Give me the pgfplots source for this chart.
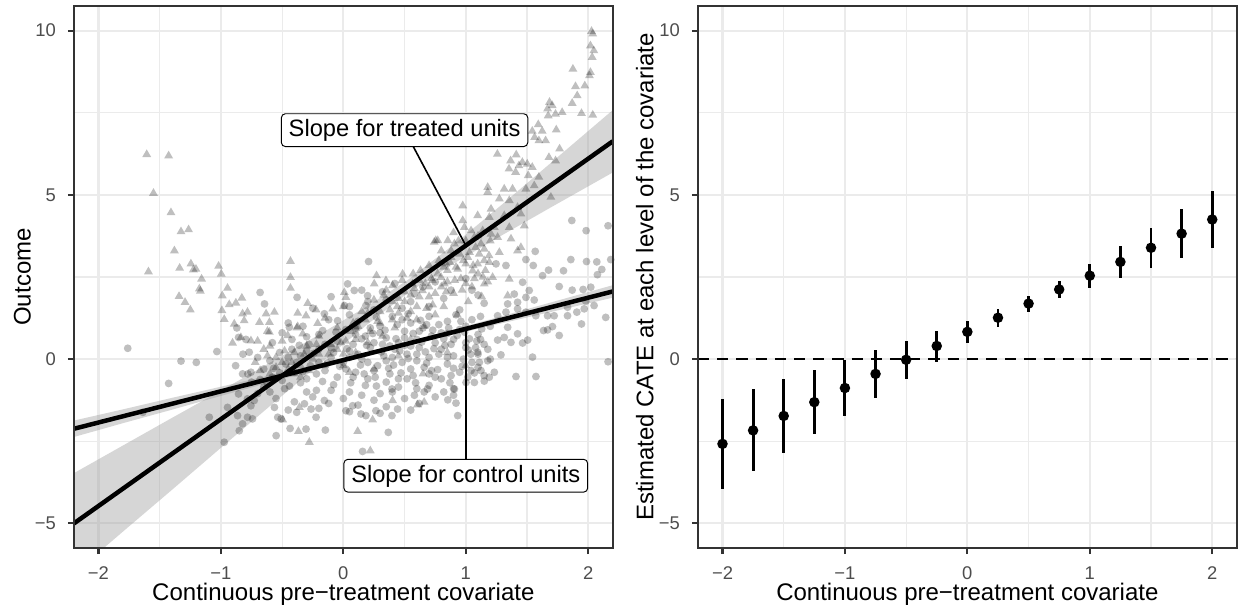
\documentclass[border=0pt]{standalone}
\usepackage{fontspec}
\setmainfont{Liberation Sans}
\usepackage{pgfplots}
\pgfplotsset{compat=1.18}
\usepackage{pgfplotstable}

\definecolor{gridc}{HTML}{EBEBEB}
\definecolor{bordc}{HTML}{333333}
\definecolor{tickc}{HTML}{4D4D4D}
\definecolor{bandc}{HTML}{999999}

% CATE estimates with 95% intervals at each covariate level
\pgfplotstableread{
x     y     lo     hi
-2    -2.58 -3.95 -1.21
-1.75 -2.17 -3.42 -0.92
-1.5  -1.73 -2.86 -0.62
-1.25 -1.31 -2.29 -0.32
-1    -0.88 -1.73 -0.02
-0.75 -0.45 -1.18  0.27
-0.5  -0.02 -0.61  0.56
-0.25  0.40 -0.08  0.87
0      0.83  0.48  1.17
0.25   1.26  0.99  1.52
0.5    1.69  1.44  1.92
0.75   2.12  1.85  2.38
1      2.54  2.15  2.90
1.25   2.96  2.48  3.45
1.5    3.39  2.77  4.00
1.75   3.82  3.07  4.56
2      4.25  3.37  5.12
}\catetable

\tikzset{
  slopelabel/.style={draw=black, fill=white, rounded corners=2.5pt,
    line width=0.6pt, inner xsep=4.6pt, inner ysep=3.3pt,
    text height=10.9pt, text depth=3pt,
    font=\fontsize{14.8}{16}\selectfont},
}

\pgfplotsset{
  panel/.style={
    scale only axis, width=336.7pt, height=338.75pt,
    xmin=-2.2, xmax=2.2, ymin=-5.75, ymax=10.75,
    xtick={-2,-1,0,1,2}, xticklabels={−2,−1,0,1,2},
    ytick={-5,0,5,10}, yticklabels={−5,0,5,10},
    minor xtick={-1.5,-0.5,0.5,1.5}, minor ytick={-2.5,2.5,7.5},
    grid=both,
    major grid style={draw=gridc, line width=1.4pt},
    minor grid style={draw=gridc, line width=0.7pt},
    axis line style={draw=bordc, line width=1.4pt},
    tick style={draw=bordc, line width=1.4pt},
    major tick length=3.8pt, minor tick length=0pt,
    tick align=outside, xtick pos=bottom, ytick pos=left,
    tick label style={font=\fontsize{11.5}{13}\selectfont, text=tickc},
    xticklabel style={anchor=base, yshift=-16pt},
    yticklabel style={anchor=east, inner xsep=0pt, xshift=-7.3pt},
    label style={font=\fontsize{15}{17}\selectfont, text=black},
    xlabel={Continuous pre−treatment covariate},
    xlabel style={at={([yshift=-32.8pt]rel axis cs:0.5,0)}, anchor=base},
  },
  ctrlpts/.style={only marks, color=black, mark=*, mark size=2.45pt,
    mark options={draw opacity=0, fill=black, fill opacity=0.25}},
  trtpts/.style={only marks, color=black, mark=triangle*, mark size=3.2pt,
    mark options={draw opacity=0, fill=black, fill opacity=0.25}},
}

\begin{document}
\begin{tikzpicture}
% ---------------- left panel: raw outcomes and group-wise fits
\begin{axis}[panel, name=L, at={(46.25pt,40.625pt)}, anchor=south west,
  ylabel={Outcome},
  ylabel style={at={([xshift=-32.25pt]rel axis cs:0,0.5)}, anchor=center}]

% control units
\addplot[ctrlpts] coordinates {
(-1.761,0.33) (-1.326,-0.06) (-1.201,-0.10) (-1.033,0.23) (-0.870,0.95) (-0.856,0.66)
(-0.796,0.60) (-0.769,0.21) (-0.823,-0.45) (-0.755,-0.40)
(-0.680,2.03) (-0.644,1.68) (-0.378,1.88) (0.206,2.97) (0.035,2.29) (0.089,2.09)
(0.198,1.93) (-0.169,0.87) (-0.155,1.38) (0.008,1.63) (0.184,1.63) (-0.441,0.97) (-0.047,1.17)
(1.866,4.22) (1.983,3.91) (2.162,4.06) (1.567,3.28) (1.858,3.03) (1.986,2.97) (2.070,2.96)
(2.184,3.03) (1.491,3.03) (1.551,2.85) (1.676,2.71) (1.798,2.69) (2.111,2.73) (2.075,2.57)
(1.627,2.54) (1.328,2.85) (1.247,2.90) (1.464,2.34) (1.763,2.21) (1.869,2.10) (1.958,2.12)
(2.021,2.19) (1.518,2.09) (1.396,1.98) (1.491,1.88) (1.559,1.80) (1.423,1.73) (1.342,1.68)
(1.980,1.76) (2.048,1.63) (1.831,1.58) (1.907,1.43) (1.967,1.53) (2.143,1.27) (1.831,1.32)
(1.722,1.32) (1.668,1.32) (1.572,1.32) (1.491,1.43) (1.423,1.53) (1.328,1.43) (1.260,1.32)
(1.342,0.97) (1.708,0.99) (1.635,0.87) (1.668,0.89) (1.763,0.72) (1.945,1.07) (1.423,0.77)
(1.505,0.58) (1.314,0.66) (1.260,0.58) (1.369,0.51) (1.464,0.49) (1.287,0.13) (1.545,0.06)
(2.162,-0.08) (1.179,-0.05) (1.097,0.21) (1.111,-0.10) (1.410,-0.53) (1.573,-0.53)
(1.233,-0.40) (1.192,-0.55) (1.124,-0.35) (1.043,-0.35) (1.016,-0.55)
(-1.427,-0.74) (-1.638,-1.62) (-1.095,-1.77) (-0.973,-2.53) (-0.946,-1.47) (-0.856,-1.06)
(-0.864,-1.72) (-0.823,-1.97) (-0.850,-2.18) (-0.783,-1.77) (-0.742,-1.82) (-0.755,-1.42)
(-0.728,-1.26) (-0.783,-1.21)
(-0.549,-2.33) (-0.435,-2.11) (-0.305,-2.13) (-0.147,-2.16) (0.367,-2.23) (0.157,-2.81)
(-0.536,-1.77) (-0.508,-1.82) (-0.381,-1.62) (-0.264,-1.52) (-0.223,-1.77) (0.021,-1.57)
(0.144,-1.67) (0.184,-1.72) (0.397,-1.72) (0.443,-1.52) (-0.318,-1.36) (-0.155,-1.26)
(0.076,-1.42) (0.266,-1.57) (0.397,-0.91) (0.687,-0.91) (-0.563,-1.47)
(0.907,-0.91) (0.853,-1.24) (0.920,-1.34) (0.934,-1.72) (1.002,-0.71) (1.070,-0.71) (1.151,-0.67)
(-0.62,-0.75) (-0.48,-0.9) (-0.35,-0.72) (-0.22,-0.95) (-0.08,-0.78) (0.05,-1.0) (0.18,-0.8)
(0.3,-1.05) (0.45,-0.85) (0.58,-1.1) (0.7,-0.8) (0.82,-1.0)
(-0.55,-1.2) (-0.4,-1.3) (-0.25,-1.15) (-0.12,-1.35) (0.0,-1.2) (0.12,-1.4) (0.25,-1.25)
(0.35,-1.45) (0.5,-1.2) (0.62,-1.35) (0.75,-1.15)
(-0.45,-1.55) (-0.2,-1.5) (0.05,-1.6) (0.3,-1.65) (0.55,-1.55)
(-0.88,-0.2) (-0.78,-0.45) (-0.7,0.05) (-0.65,-0.3) (-0.58,-0.55) (-0.52,0.2) (-0.47,-0.15)
(-0.4,-0.4) (-0.35,0.1) (-0.3,-0.6) (-0.27,-0.2) (-0.2,0.3) (-0.15,-0.35) (-0.1,0.05)
(-0.05,-0.55) (0.0,-0.1) (0.05,0.25) (0.1,-0.4) (0.15,0.0) (0.2,-0.6) (0.22,0.35) (0.28,-0.2)
(0.33,0.1) (0.38,-0.45) (0.42,0.3) (0.48,-0.1) (0.52,0.15) (0.57,-0.5) (0.62,0.35) (0.66,-0.25)
(0.7,0.05) (0.75,-0.55) (0.8,0.3) (0.85,-0.15) (0.9,0.1) (0.95,-0.4) (1.0,0.35) (1.05,-0.1)
(1.1,0.15) (1.15,-0.5) (1.2,0.0)
(-0.82,0.15) (-0.6,-0.05) (-0.42,0.3) (-0.38,-0.1) (-0.22,-0.45) (-0.08,0.2) (0.02,-0.3)
(0.12,0.15) (0.25,-0.35) (0.35,-0.05) (0.45,-0.6) (0.55,0.4) (0.6,-0.05) (0.72,-0.35)
(0.78,0.15) (0.88,-0.5) (0.98,0.0) (1.08,0.35)
(-0.58,0.5) (-0.5,0.8) (-0.42,0.6) (-0.33,1.0) (-0.28,0.45) (-0.2,0.75) (-0.12,1.2)
(-0.05,0.55) (0.02,0.9) (0.08,0.45) (0.12,1.15) (0.18,0.7) (0.25,0.5) (0.3,1.0) (0.35,0.65)
(0.4,1.3) (0.45,0.5) (0.5,0.85) (0.55,1.1) (0.6,0.6) (0.65,0.95) (0.7,1.3) (0.75,0.5)
(0.8,0.8) (0.85,1.15) (0.9,0.6) (0.95,0.9) (1.0,0.5) (1.05,1.2) (1.1,0.75) (1.15,0.45) (1.2,1.0)
(-0.45,1.1) (-0.15,0.45) (0.05,1.35) (0.22,0.95) (0.38,0.4) (0.48,1.2) (0.62,0.85)
(0.78,1.05) (0.92,1.35) (1.12,1.3)
(-0.25,1.55) (-0.1,1.9) (0.05,1.6) (0.15,2.1) (0.25,1.5) (0.35,1.8) (0.48,1.55) (0.58,2.0)
(0.7,1.6) (0.82,1.85) (0.95,1.5) (1.05,2.1) (1.15,1.7) (0.42,2.3) (0.75,2.35) (1.0,2.45)
(-0.68,-0.62) (-0.57,-0.28) (-0.44,-0.82) (-0.33,-0.38) (-0.24,0.18) (-0.17,-0.68)
(-0.03,-0.22) (0.06,-0.72) (0.14,-0.18) (0.19,0.42) (0.27,-0.82) (0.31,0.22) (0.37,-0.28)
(0.43,0.62) (0.47,-0.42) (0.53,0.02) (0.59,-0.72) (0.64,0.52) (0.68,-0.12) (0.73,0.88)
(0.77,-0.32) (0.83,0.42) (0.87,-0.72) (0.93,0.72) (0.97,-0.22) (1.03,0.62) (1.07,-0.42) (1.13,0.92)
(-0.52,-0.42) (-0.36,0.42) (-0.13,-0.12) (0.03,0.32) (0.17,-0.45) (0.24,0.78) (0.41,-0.18)
(0.5,0.42) (0.57,0.78) (0.67,0.22) (0.82,0.62) (0.9,-0.28) (0.99,0.82) (1.04,0.15)
(-0.3,0.68) (-0.06,0.82) (0.1,0.95) (0.27,1.28) (0.34,0.88) (0.44,1.05) (0.53,1.38)
(0.63,1.18) (0.72,0.7) (0.86,0.95) (0.96,1.15) (1.09,0.55)
(-0.1,-0.95) (0.15,-1.1) (0.4,-1.0) (0.66,-1.0) (-0.3,-1.0) (0.9,-1.1)
(0.2,1.75) (0.55,1.75) (0.88,2.1) (0.65,2.2) (0.32,2.05) (1.1,1.95)
(0.15,0.62) (0.32,0.45) (0.46,0.25) (0.6,0.15) (0.74,0.32) (0.88,0.45) (1.02,0.28)
(0.2,-0.1) (0.4,0.05) (0.55,-0.3) (0.7,-0.45) (0.85,0.05) (-0.1,0.35) (-0.3,0.25)
(-0.45,0.05) (0.05,0.05) (0.3,0.8) (0.5,0.65) (0.68,1.05) (0.85,0.78) (1.0,1.0) (0.1,0.75)
(-0.2,-0.1) (0.35,-0.7) (0.6,-0.9) (0.9,-0.9) (-0.5,-0.65) (-0.65,-0.85) (-0.75,-0.7)
(-0.7,-1.05) (-0.6,-1.0) (0.08,-0.55) (0.26,-0.55) (0.52,-0.6) (0.8,-0.6) (1.1,-0.25)
(1.12,0.6) (1.18,0.3)
};

% treated units
\addplot[trtpts] coordinates {
(-1.606,6.23) (-1.427,6.19)
(-1.551,5.05) (-1.408,4.46) (-1.326,3.88) (-1.264,3.94) (-1.380,3.30) (-1.592,2.66)
(-1.337,2.77) (-1.245,2.90) (-1.225,2.72) (-1.204,2.74) (-1.158,2.44) (-1.019,2.83)
(-0.997,2.59) (-1.176,2.14) (-1.168,2.07) (-1.342,1.91) (-1.293,1.73) (-1.250,1.50)
(-0.946,2.16) (-0.989,1.93) (-0.992,1.48) (-0.973,1.21) (-0.932,1.66) (-0.878,1.71)
(-0.829,1.86) (-0.891,1.07) (-0.823,1.38) (-0.810,1.17) (-0.783,1.43) (-0.905,0.49)
(-0.837,0.66) (-0.755,0.56)
(2.027,9.98) (2.037,9.90) (2.018,9.54) (2.046,9.39) (2.032,9.19) (1.875,8.83) (2.018,8.73)
(2.010,8.63) (1.896,8.30) (1.972,8.32) (1.910,8.02) (1.684,7.82) (1.706,7.72) (1.668,7.62)
(1.673,7.41) (1.733,7.46) (1.787,7.51) (1.869,7.79) (1.945,7.48) (2.037,7.43) (1.592,7.14)
(1.624,6.94) (1.739,6.98) (1.543,6.94) (1.562,6.75) (1.652,6.65) (1.597,6.65) (1.766,6.40)
(1.258,6.24) (1.412,6.22) (1.366,6.04) (1.462,5.99) (1.502,5.94) (1.434,5.89) (1.543,5.84)
(1.353,5.79) (1.407,5.69) (1.510,5.59) (1.597,5.54) (1.679,6.14) (1.733,6.04)
(-0.432,2.98) (-0.432,2.49) (-0.432,2.16) (-0.291,1.70) (-0.223,1.50) (-0.373,1.40)
(-0.305,1.32) (-0.210,1.09) (-0.373,0.99) (-0.454,0.72) (-0.332,0.77) (-0.563,1.43)
(-0.631,1.38) (-0.685,1.12) (-0.604,1.12) (-0.604,0.82) (-0.087,1.53) (0.008,2.03)
(0.021,1.88) (0.252,2.29) (0.271,2.54) (0.348,2.39) (0.402,2.24) (0.484,2.59) (0.565,2.29)
(0.742,3.56) (0.755,3.61) (0.646,2.09) (0.728,2.39)
(1.179,5.23) (1.179,5.08) (1.314,5.18) (1.382,5.18) (1.491,5.18) (1.559,5.28) (1.274,4.88)
(1.355,4.83) (0.975,4.67) (1.206,4.57) (1.423,4.62) (1.097,4.37) (1.192,4.32) (1.314,4.37)
(1.450,4.42) (0.975,4.22) (0.988,4.01) (1.043,3.91) (1.138,3.91) (1.233,4.01) (1.355,4.01)
(1.478,4.06) (1.695,4.93) (1.070,3.71) (1.206,3.81) (1.260,3.71) (1.369,3.66) (1.450,3.40)
(1.124,3.51) (1.151,3.35) (1.274,3.25) (1.423,3.30) (0.907,3.51) (0.853,3.61) (0.771,3.61)
(0.880,3.10) (1.016,3.10) (1.097,2.90) (1.192,2.95) (0.839,2.90) (0.934,2.74) (1.056,2.69)
(1.219,2.49) (1.355,2.44) (1.151,2.29) (1.342,1.93) (0.798,2.49) (0.825,2.29)
(-0.367,-2.20) (-0.278,-2.53) (0.117,-2.20) (0.220,-2.79) (0.239,-1.85) (-0.495,-1.85)
(-0.359,-1.47) (0.606,-1.39) (0.660,-1.31) (0.402,-1.26)
(-0.72,-0.1) (-0.65,0.3) (-0.6,-0.45) (-0.55,0.05) (-0.5,0.55) (-0.45,-0.3) (-0.4,0.2)
(-0.35,-0.55) (-0.3,0.4) (-0.25,0.0) (-0.2,0.7) (-0.15,-0.2) (-0.1,0.45) (-0.05,0.95)
(0.0,0.15) (0.05,-0.4) (0.1,0.6) (-0.62,0.85) (-0.38,0.95) (-0.7,0.55)
(0.12,1.0) (0.15,1.45) (0.2,0.5) (0.25,1.8) (0.28,1.15) (0.32,0.7) (0.35,2.1) (0.38,1.5)
(0.42,0.95) (0.45,1.85) (0.48,2.4) (0.52,1.25) (0.55,0.6) (0.58,2.15) (0.6,1.6) (0.63,2.7)
(0.66,1.0) (0.7,1.9) (0.72,2.45) (0.75,1.35) (0.78,3.0) (0.8,2.2)
(0.82,1.6) (0.85,2.7) (0.88,3.3) (0.9,2.0) (0.93,1.35) (0.96,2.45) (0.98,3.0) (1.02,1.75)
(1.05,2.2) (1.08,3.4) (1.1,2.6) (1.13,1.9) (1.15,3.0) (1.18,2.35) (1.2,3.6)
(-0.15,1.25) (0.0,1.6) (0.08,1.1)
(0.25,-0.3) (0.45,0.1) (0.65,-0.45) (0.85,0.2) (1.0,-0.2)
(0.02,0.55) (0.1,0.2) (0.18,1.2) (0.22,0.85) (0.3,1.45) (0.33,1.95) (0.4,1.2) (0.44,1.6)
(0.5,2.05) (0.55,1.45) (0.57,2.6) (0.62,1.9) (0.67,2.3) (0.7,2.85) (0.73,1.65) (0.77,2.6)
(0.8,3.3) (0.84,2.05) (0.87,2.95) (0.91,2.4) (0.94,3.6) (0.97,2.1) (1.0,2.9) (1.03,3.25)
(1.07,2.45) (1.11,3.2) (1.16,2.7) (1.19,3.15)
(-0.55,-0.25) (-0.48,0.25) (-0.42,-0.1) (-0.32,0.15) (-0.22,0.45) (-0.12,0.15) (-0.02,0.5)
(0.06,0.85) (-0.28,-0.35) (-0.6,0.4)
(0.3,1.1) (0.45,1.4) (0.6,1.2) (0.68,1.55) (0.75,2.0) (0.85,2.35) (0.92,2.8) (1.0,2.3)
(1.06,2.85) (1.14,2.5) (0.5,1.75) (0.4,1.75) (0.62,2.4) (0.82,2.8) (0.95,3.2) (1.1,3.75)
(0.9,3.85) (1.0,3.6) (0.7,2.2) (0.55,1.95) (0.2,1.4) (0.1,0.95) (-0.05,0.3) (-0.35,-0.2)
(-0.5,-0.1) (-0.62,0.1) (-0.68,-0.35) (-0.4,-0.45) (-0.2,0.15) (0.0,-0.2)
};

% 95% confidence bands of the two linear fits
\addplot[draw=none, fill=bandc, fill opacity=0.4] coordinates {
(-2.2,-3.47) (-1.8,-2.63) (-1.4,-1.79) (-1.0,-0.96) (-0.6,-0.11) (-0.2,0.74) (0.2,1.62)
(0.53,2.42) (0.9,3.48) (1.3,4.72) (1.7,5.99) (2.2,7.58)
(2.2,5.68) (1.7,4.63) (1.3,3.78) (0.9,2.91) (0.53,2.02) (0.2,1.07) (-0.2,-0.17)
(-0.6,-1.43) (-1.0,-2.70) (-1.4,-3.98) (-1.8,-5.25) (-2.2,-6.53)
} -- cycle;
\addplot[draw=none, fill=bandc, fill opacity=0.4] coordinates {
(-2.2,-1.87) (-1.8,-1.53) (-1.4,-1.18) (-1.0,-0.84) (-0.6,-0.49) (-0.2,-0.14) (0.35,0.36)
(0.8,0.80) (1.2,1.21) (1.7,1.73) (2.2,2.25)
(2.2,1.87) (1.7,1.44) (1.2,1.01) (0.8,0.66) (0.35,0.24) (-0.2,-0.30) (-0.6,-0.71)
(-1.0,-1.12) (-1.4,-1.54) (-1.8,-1.95) (-2.2,-2.37)
} -- cycle;

% fitted lines
\addplot[black, line width=2.8pt] coordinates {(-2.2,-5.000) (2.2,6.630)};
\addplot[black, line width=2.8pt] coordinates {(-2.2,-2.120) (2.2,2.060)};

% annotation leaders and labels
\draw[black, line width=1pt] (axis cs:1,3.458) -- (axis cs:0.5,6.97);
\draw[black, line width=1pt] (axis cs:1,0.92) -- (axis cs:1,-3.55);
\node[slopelabel] at (axis cs:0.5,6.97) {Slope for treated units};
\node[slopelabel] at (axis cs:1,-3.55) {Slope for control units};
\end{axis}

% ---------------- right panel: CATE by covariate level
\begin{axis}[panel, name=R, at={(436.25pt,40.625pt)}, anchor=south west,
  ylabel={Estimated CATE at each level of the covariate},
  ylabel style={at={([xshift=-33.3pt]rel axis cs:0,0.5)}, anchor=center}]
\addplot[black, line width=1.4pt, dash pattern=on 7pt off 5pt]
  coordinates {(-2.2,0) (2.2,0)};
\addplot[only marks, mark=*, mark size=3.3pt,
  mark options={draw opacity=0, fill=black},
  error bars/.cd, y dir=both, y explicit, error mark=none,
  error bar style={line width=1.8pt, black}]
  table[x=x, y=y,
    y error plus expr=\thisrow{hi}-\thisrow{y},
    y error minus expr=\thisrow{y}-\thisrow{lo}] {\catetable};
\end{axis}

% panel borders on top of the data
\draw[bordc, line width=1.4pt] (L.south west) rectangle (L.north east);
\draw[bordc, line width=1.4pt] (R.south west) rectangle (R.north east);

\pgfresetboundingbox
\path[use as bounding box] (0,0) rectangle (773.75pt,383.125pt);
\end{tikzpicture}
\end{document}
